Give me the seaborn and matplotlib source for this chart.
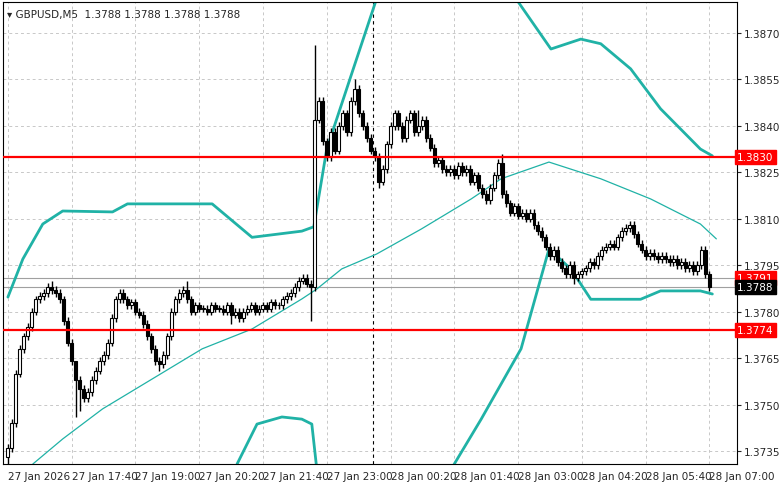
import matplotlib
matplotlib.use("Agg")
import matplotlib.pyplot as plt
import seaborn as sns
import numpy as np
import pandas as pd

BASE = 1.3700
PIP = 0.0001
# close prices in pips above 1.3700, one per M5 bar from 27 Jan 16:20
closes = [36,44,60,68, 72,75,80,84,85,86,88, 87,86,84,77, 70,64,58,55,52,
          54,58,61,64,66,70, 78,84,86,84,82, 83,80,79,76, 72,68,64,63,66,
          72,80,84,86, 87,84,80,82,81, 81,80,82,81,81,80,82,79,80,78,
          80,81,82,80,81,82,81,83,82,82, 84,85,86,88,90,91,89, 88, 142,
          148,135,130,138,132, 140,144,138,148,152,144,140,136, 132,130,122,126,
          134,140,144,140,136,142,144,138,140,142, 136,133,128,129,126,125,
          126,124,127,125,126,122,124,120,118,116, 120,124,128,118,
          115,112,114,111,112,110, 112,108,106,104,101,98,100, 96,94,92,95,91,92,
          93,94,96,95,98,100,101,102,101,104,106,107,108,105,
          102,100,98,99,98,97,98,97, 96,97,95,96,94,95,93,95, 100,92,88]
first_open = 33
high_override = {77: 166, 17: 60, 87: 155, 103: 145, 124: 131, 45: 90, 11: 90}
low_override = {0: 30, 17: 46, 18: 48, 38: 61, 56: 76, 76: 77, 93: 120, 142: 89}

tick_labels = ["27 Jan 2026","27 Jan 17:40","27 Jan 19:00","27 Jan 20:20","27 Jan 21:40",
               "27 Jan 23:00","28 Jan 00:20","28 Jan 01:40","28 Jan 03:00","28 Jan 04:20",
               "28 Jan 05:40","28 Jan 07:00"]

upper1_x = [0,3.75,8.75,13.75,26.25,30,51.25,61.25,73.75,76.75,80,86.25,92.5]
upper1_y = [84.7,97,108.3,112.5,112.2,114.8,114.8,104,106,107.4,132.5,156.8,181]
upper2_x = [127.5,136.25,143.75,148.75,156.25,163.75,173.75,176.75]
upper2_y = [181,164.8,168,166.5,158.4,145.5,132.5,130.3]
lower1_x = [57.5,62.5,68.75,73.75,76.25,77.5]
lower1_y = [30.8,43.7,46,45.3,43.7,29.2]
lower2_x = [111.25,118.75,128.75,135.75,141.25,146.25,153.75,158.75,163.75,173.75,176.75]
lower2_y = [29.2,45.3,68,100.2,93.8,84,84,84,86.7,86.7,85.7]
mid_x = [6.25,13.75,23.75,36.25,48.75,61.25,73.75,77.5,83.75,92.5,103.75,116.25,123.75,135.75,148.75,161.25,173.75,177.75]
mid_y = [30.8,38.9,48.6,58.3,68,74.4,84.1,87.3,93.8,98.6,106.7,116.4,122.9,128.3,122.9,116.4,108.3,103.5]

sns.set_style("white")
fig = plt.figure(figsize=(7.81, 4.89), dpi=100)
ax = fig.add_axes([0.004, 0.049, 0.94, 0.945])

c = np.array(closes, float)
o = np.concatenate([[first_open], c[:-1]])
n = len(c)
h = np.maximum(o, c) + 1.2
l = np.minimum(o, c) - 1.2
for k, v in high_override.items(): h[k] = v
for k, v in low_override.items(): l[k] = v
P = lambda a: BASE + np.asarray(a) * PIP
idx = np.arange(n)

ax.vlines(idx, P(l), P(h), color="black", lw=1, zorder=3)
body_lo = np.minimum(o, c); body_h = np.maximum(np.abs(c - o), 0.3)
cols = ["white" if cc >= oo else "black" for cc, oo in zip(c, o)]
ax.bar(idx, body_h * PIP, bottom=P(body_lo), width=0.75, color=cols, edgecolor="black", lw=0.8, zorder=4)

band = "#20b2a6"
for xs, ys in [(upper1_x, upper1_y), (upper2_x, upper2_y), (lower1_x, lower1_y), (lower2_x, lower2_y)]:
    sns.lineplot(x=xs, y=P(ys), ax=ax, color=band, lw=2, zorder=2, sort=False)
sns.lineplot(x=mid_x, y=P(mid_y), ax=ax, color=band, lw=0.9, zorder=2, sort=False)

for lvl in [1.3830, 1.3774]:
    ax.axhline(lvl, color="red", lw=1.6, zorder=5)
for lvl in [1.3791, 1.3788]:
    ax.axhline(lvl, color="#a0a0a0", lw=0.8, zorder=1)
ax.axvline(91.7, color="black", lw=0.8, ls=(0, (3, 3)), zorder=1)

ax.set_xlim(-1.2, 183)
ax.set_ylim(BASE + 30.8 * PIP, BASE + 180 * PIP)
yt = np.arange(1.3735, 1.38701, 0.0015)
ax.set_yticks(yt)
ax.yaxis.tick_right()
ax.set_yticklabels([f"{v:.4f}" for v in yt], fontsize=7.5)
ax.set_xticks(np.arange(0, 177, 16))
ax.set_xticklabels(tick_labels, fontsize=7.5, ha="left")
ax.tick_params(length=3, pad=2)
ax.grid(True, color="#c8c8c8", ls=(0, (3, 3)), lw=0.7)
for s in ax.spines.values():
    s.set_color("black"); s.set_linewidth(0.8)

for lvl, txt, fc, tc in [(1.3830, "1.3830", "red", "white"), (1.3774, "1.3774", "red", "white"),
                         (1.3791, "1.3791", "red", "white"), (1.3788, "1.3788", "black", "white")]:
    ax.text(1.0, lvl, txt, transform=ax.get_yaxis_transform(), fontsize=7.5, color=tc, va="center",
            ha="left", bbox=dict(boxstyle="square,pad=0.2", fc=fc, ec=fc), zorder=10, clip_on=False)

ax.text(0.005, 0.985, "▾ GBPUSD,M5  1.3788 1.3788 1.3788 1.3788", transform=ax.transAxes,
        fontsize=7.5, va="top", ha="left")
fig.savefig("out.png", dpi=100)
